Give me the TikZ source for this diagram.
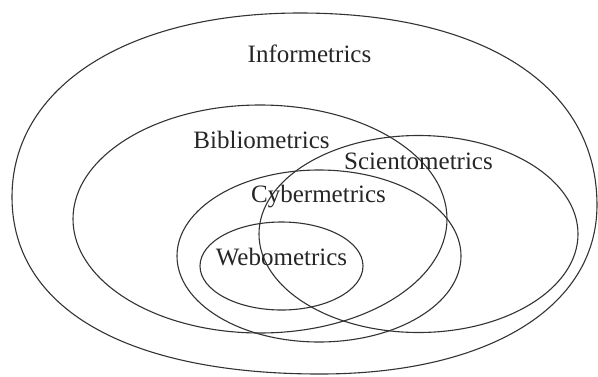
\documentclass[tikz,border=0pt]{standalone}
\usepackage{fontspec}
\setmainfont{Liberation Serif}
\begin{document}
\begin{tikzpicture}[x=1pt,y=-1pt,
  field/.style={draw=black!80, line width=1.1pt},
  fieldlabel/.style={inner sep=0pt, font=\fontsize{25}{30}\selectfont, text=black!85}]
\useasboundingbox (0,0) rectangle (598,376);
\fill[white] (0,0) rectangle (598,376);
% outer field: an oval built from four quarter arcs, fuller at the lower right
\coordinate (otop) at (300,13);
\coordinate (oright) at (597,205);
\coordinate (obottom) at (320,374);
\coordinate (oleft) at (12,197);
\draw[field] (otop) .. controls (484,13) and (597,86) .. (oright)
  .. controls (597,308) and (487,374) .. (obottom)
  .. controls (126,374) and (12,308) .. (oleft)
  .. controls (12,87) and (127,13) .. (otop) -- cycle;
% nested fields
\draw[field] (260,219) ellipse [x radius=187, y radius=114];
\draw[field] (418.5,234) ellipse [x radius=159.5, y radius=98.5];
\draw[field] (319,256) ellipse [x radius=142, y radius=86];
\draw[field] (281.5,266) ellipse [x radius=81.5, y radius=44];
% labels
\node[fieldlabel] (info) at (309.5,53.5) {Informetrics};
\node[fieldlabel] (biblio) at (261.5,139.5) {Bibliometrics};
\node[fieldlabel] (sciento) at (418.5,161.5) {Scientometrics};
\node[fieldlabel] (cyber) at (318.5,196.5) {Cybermetrics};
\node[fieldlabel] (webo) at (281.5,257.5) {Webometrics};
\end{tikzpicture}
\end{document}
